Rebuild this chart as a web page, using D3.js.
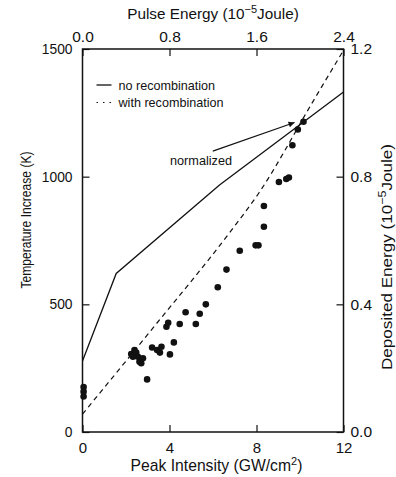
<!DOCTYPE html>
<html>
<head>
<meta charset="utf-8">
<script src="https://cdn.jsdelivr.net/npm/d3@7"></script>
<style>
  body { margin: 0; background: #fff; }
  text { font-family: "Liberation Sans", Arial, Helvetica, sans-serif; fill: #111; }
</style>
</head>
<body>
<div id="chart"></div>
<script>
// measured points: peak intensity (GW/cm2) and temperature increase (K)
const intensity = [0.05, 0.05, 0.05,
  2.24, 2.32, 2.39, 2.47, 2.55, 2.62, 2.70, 2.78, 2.97,
  3.20, 3.43, 3.56, 3.63, 3.86, 3.94, 4.02, 4.20, 4.47, 4.74,
  5.21, 5.39, 5.67, 6.22, 6.62, 7.23, 7.96, 8.09, 8.34, 8.34,
  9.03, 9.37, 9.49, 9.65, 9.90, 10.16];
const temperature = [176, 158, 139,
  305, 295, 321, 311, 295, 275, 269, 289, 206,
  331, 321, 311, 334, 412, 428, 304, 351, 423, 469,
  423, 463, 500, 567, 636, 710, 731, 731, 804, 885,
  979, 991, 997, 1123, 1185, 1215];

// model curves
const noRecX = [0, 1.55, 6.3, 12];
const noRecY = [278, 621, 967, 1332];
const withRecX = [0, 3.1, 6.8, 8.1, 10.6, 12];
const withRecY = [70, 393, 785, 935, 1295, 1495];

const bottomTicks = [0, 4, 8, 12];
const leftTicks = [0, 500, 1000, 1500];
const topTicks = [0.0, 0.8, 1.6, 2.4];
const rightTicks = [0.0, 0.4, 0.8, 1.2];

const width = 396, height = 477;
const margin = {top: 49, right: 52.5, bottom: 45, left: 82.5};
const innerW = width - margin.left - margin.right;
const innerH = height - margin.top - margin.bottom;

const svg = d3.select('#chart').append('svg')
    .attr('width', width)
    .attr('height', height);

const g = svg.append('g')
    .attr('transform', `translate(${margin.left}, ${margin.top})`);

const x = d3.scaleLinear().domain([0, 12]).range([0, innerW]);
const y = d3.scaleLinear().domain([0, 1500]).range([innerH, 0]);
const xTop = d3.scaleLinear().domain([0, 2.4]).range([0, innerW]);
const yRight = d3.scaleLinear().domain([0, 1.2]).range([innerH, 0]);

function styleAxis(size) {
    return function(sel) {
        sel.select('.domain').remove();
        sel.selectAll('line').attr('stroke', '#111').attr('stroke-width', 1.2);
        sel.selectAll('text').style('font-size', size).attr('fill', '#111');
    };
}

g.append('g')
    .attr('transform', `translate(0, ${innerH})`)
    .call(d3.axisBottom(x).tickValues(bottomTicks).tickFormat(d3.format('d'))
        .tickSizeInner(-7).tickSizeOuter(0).tickPadding(10))
    .call(styleAxis('15px'));

g.append('g')
    .call(d3.axisLeft(y).tickValues(leftTicks).tickFormat(d3.format('d'))
        .tickSizeInner(-7).tickSizeOuter(0).tickPadding(10))
    .call(styleAxis('13.8px'));

g.append('g')
    .call(d3.axisTop(xTop).tickValues(topTicks).tickFormat(d3.format('.1f'))
        .tickSizeInner(-7).tickSizeOuter(0).tickPadding(7))
    .call(styleAxis('15.5px'));

g.append('g')
    .attr('transform', `translate(${innerW}, 0)`)
    .call(d3.axisRight(yRight).tickValues(rightTicks).tickFormat(d3.format('.1f'))
        .tickSizeInner(-7).tickSizeOuter(0).tickPadding(7))
    .call(styleAxis('15.5px'));

// frame
g.append('rect')
    .attr('width', innerW)
    .attr('height', innerH)
    .attr('fill', 'none')
    .attr('stroke', '#111')
    .attr('stroke-width', 1.5);

const line = d3.line()
    .x(d => x(d[0]))
    .y(d => y(d[1]));

g.append('path')
    .datum(d3.zip(noRecX, noRecY))
    .attr('d', line)
    .attr('fill', 'none')
    .attr('stroke', '#111')
    .attr('stroke-width', 1.3);

g.append('path')
    .datum(d3.zip(withRecX, withRecY))
    .attr('d', line.curve(d3.curveMonotoneX))
    .attr('fill', 'none')
    .attr('stroke', '#111')
    .attr('stroke-width', 1.2)
    .attr('stroke-dasharray', '5,4');

g.selectAll('circle')
    .data(d3.zip(intensity, temperature))
    .enter().append('circle')
    .attr('cx', d => x(d[0]))
    .attr('cy', d => y(d[1]))
    .attr('r', 3.3)
    .attr('fill', '#111');

// legend
const legend = g.append('g').attr('transform', 'translate(14, 36)');
legend.append('line')
    .attr('x1', 0).attr('x2', 15).attr('y1', 0).attr('y2', 0)
    .attr('stroke', '#111').attr('stroke-width', 1.3);
legend.append('text')
    .attr('x', 22).attr('y', 4.5)
    .style('font-size', '12.6px')
    .text('no recombination');
legend.append('line')
    .attr('x1', 0).attr('x2', 15).attr('y1', 17.5).attr('y2', 17.5)
    .attr('stroke', '#111').attr('stroke-width', 1.2)
    .attr('stroke-dasharray', '1.5,5');
legend.append('text')
    .attr('x', 22).attr('y', 22)
    .style('font-size', '12.6px')
    .text('with recombination');

// annotation arrow
const arrowFrom = [5.99, 1100];
const arrowTo = [9.75, 1212];
svg.append('defs').append('marker')
    .attr('id', 'head')
    .attr('viewBox', '0 0 10 10')
    .attr('refX', 10).attr('refY', 5)
    .attr('markerWidth', 9).attr('markerHeight', 6)
    .attr('markerUnits', 'userSpaceOnUse')
    .attr('orient', 'auto')
    .append('path')
    .attr('d', 'M0,0L10,5L0,10Z')
    .attr('fill', '#111');
g.append('line')
    .attr('x1', x(arrowFrom[0])).attr('y1', y(arrowFrom[1]))
    .attr('x2', x(arrowTo[0])).attr('y2', y(arrowTo[1]))
    .attr('stroke', '#111').attr('stroke-width', 1.1)
    .attr('marker-end', 'url(#head)');
g.append('text')
    .attr('x', 87.5).attr('y', 115.5)
    .style('font-size', '12.7px')
    .text('normalized');

// axis titles
const bottomTitle = svg.append('text')
    .attr('x', 216.5).attr('y', 471)
    .attr('text-anchor', 'middle')
    .style('font-size', '15.7px');
bottomTitle.append('tspan').text('Peak Intensity (GW/cm');
bottomTitle.append('tspan').attr('dy', -6).style('font-size', '11px').text('2');
bottomTitle.append('tspan').attr('dy', 6).text(')');

const topTitle = svg.append('text')
    .attr('x', 213).attr('y', 19)
    .attr('text-anchor', 'middle')
    .style('font-size', '15.3px');
topTitle.append('tspan').text('Pulse Energy (10');
topTitle.append('tspan').attr('dy', -6).style('font-size', '11px').text('\u22125');
topTitle.append('tspan').attr('dy', 6).text('Joule)');

svg.append('text')
    .attr('transform', 'translate(31, 220) rotate(-90)')
    .attr('text-anchor', 'middle')
    .attr('textLength', 137)
    .attr('lengthAdjust', 'spacingAndGlyphs')
    .style('font-size', '14.5px')
    .text('Temperature Increase (K)');

const rightTitle = svg.append('text')
    .attr('transform', 'translate(392, 257) rotate(-90)')
    .attr('text-anchor', 'middle')
    .attr('textLength', 226)
    .attr('lengthAdjust', 'spacingAndGlyphs')
    .style('font-size', '15px');
rightTitle.append('tspan').text('Deposited Energy (10');
rightTitle.append('tspan').attr('dy', -6).style('font-size', '11px').text('\u22125');
rightTitle.append('tspan').attr('dy', 6).text('Joule)');
</script>
</body>
</html>
